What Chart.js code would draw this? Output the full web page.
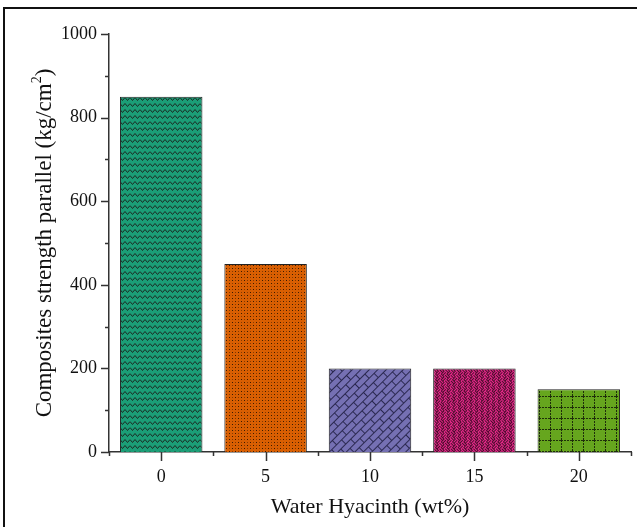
<!DOCTYPE html>
<html>
<head>
<meta charset="utf-8">
<script src="https://cdn.jsdelivr.net/npm/chart.js@4.4.1/dist/chart.umd.min.js"></script>
<style>
  html, body { margin: 0; padding: 0; background: #fff; }
  #wrap { width: 637px; height: 527px; position: relative; }
</style>
</head>
<body>
<div id="wrap"><canvas id="c" width="637" height="527"></canvas></div>
<script>
// Water hyacinth content (wt%) and composite strength parallel to grain
const categories = ['0', '5', '10', '15', '20'];
const strength = [850, 450, 200, 200, 150];
const yTicks = [0, 200, 400, 600, 800, 1000];
const yMinorTicks = [100, 300, 500, 700, 900];

const fillColors = ['#1b9e77', '#d95f02', '#7570b3', '#e7298a', '#66a61e'];
const SERIF = '"Liberation Serif", "Times New Roman", serif';

function tile(w, h, bg, draw) {
  const c = document.createElement('canvas');
  c.width = w; c.height = h;
  const g = c.getContext('2d');
  g.fillStyle = bg; g.fillRect(0, 0, w, h);
  draw(g, w, h);
  return c;
}

function makePatterns(ctx) {
  // zigzag rows
  const zig = tile(10, 6, fillColors[0], (g) => {
    g.strokeStyle = '#1c2b24'; g.lineWidth = 1;
    g.beginPath();
    g.moveTo(0, 1.5); g.lineTo(2.5, 4.5); g.lineTo(5, 1.5); g.lineTo(7.5, 4.5); g.lineTo(10, 1.5);
    g.stroke();
  });
  // staggered dots
  const dots = tile(6, 6, fillColors[1], (g) => {
    g.fillStyle = '#3a1a00';
    g.fillRect(1, 1, 1, 1);
    g.fillRect(4, 4, 1, 1);
    g.fillStyle = '#8a3a00';
    g.fillRect(4, 1, 1, 1);
    g.fillRect(1, 4, 1, 1);
  });
  // running bricks, later rotated 45 degrees
  const brick = tile(14, 12, fillColors[2], (g) => {
    g.strokeStyle = '#2a2850'; g.lineWidth = 1;
    g.beginPath();
    g.moveTo(0, 0.5); g.lineTo(14, 0.5);
    g.moveTo(0, 6.5); g.lineTo(14, 6.5);
    g.moveTo(0.5, 0); g.lineTo(0.5, 6);
    g.moveTo(7.5, 6); g.lineTo(7.5, 12);
    g.stroke();
  });
  // basket weave, later rotated 45 degrees
  const weave = tile(8, 8, fillColors[3], (g) => {
    g.strokeStyle = '#4a0c2c'; g.lineWidth = 1;
    g.beginPath();
    g.moveTo(0, 0.5); g.lineTo(4, 0.5);
    g.moveTo(0, 2.5); g.lineTo(4, 2.5);
    g.moveTo(4.5, 0); g.lineTo(4.5, 4);
    g.moveTo(6.5, 0); g.lineTo(6.5, 4);
    g.moveTo(4, 4.5); g.lineTo(8, 4.5);
    g.moveTo(4, 6.5); g.lineTo(8, 6.5);
    g.moveTo(0.5, 4); g.lineTo(0.5, 8);
    g.moveTo(2.5, 4); g.lineTo(2.5, 8);
    g.stroke();
  });
  // dashed grid
  const grid = tile(11, 11, fillColors[4], (g) => {
    g.fillStyle = '#1e2e0a';
    for (let i = 0; i < 11; i += 3) { g.fillRect(i, 0, 2, 1); g.fillRect(0, i, 1, 2); }
  });

  const pats = [zig, dots, brick, weave, grid].map(t => ctx.createPattern(t, 'repeat'));
  pats[2].setTransform(new DOMMatrix().rotate(-45));
  pats[3].setTransform(new DOMMatrix().rotate(45));
  return pats;
}

const canvas = document.getElementById('c');
const ctx = canvas.getContext('2d');
const patterns = makePatterns(ctx);

// white page, top/left frame, custom tick marks and axis titles
const decor = {
  id: 'decor',
  beforeDraw(chart) {
    const g = chart.ctx;
    g.save();
    g.fillStyle = '#fff';
    g.fillRect(0, 0, chart.width, chart.height);
    g.fillStyle = '#111';
    g.fillRect(3, 7, chart.width - 3, 2);
    g.fillRect(3, 7, 2, chart.height - 7);
    g.restore();
  },
  afterDraw(chart) {
    const g = chart.ctx;
    const x = chart.scales.x, y = chart.scales.y;
    const area = chart.chartArea;
    g.save();
    g.strokeStyle = '#333';
    g.lineWidth = 1.5;
    g.beginPath();
    yTicks.forEach(v => { const p = Math.round(y.getPixelForValue(v)) + 0.5; g.moveTo(area.left, p); g.lineTo(area.left - 8, p); });
    yMinorTicks.forEach(v => { const p = Math.round(y.getPixelForValue(v)) + 0.5; g.moveTo(area.left, p); g.lineTo(area.left - 4, p); });
    categories.forEach((c, i) => { const p = Math.round(x.getPixelForValue(i)) + 0.5; g.moveTo(p, area.bottom); g.lineTo(p, area.bottom + 9); });
    for (let i = 0; i <= categories.length; i++) {
      const p = Math.round(x.getPixelForValue(i - 0.5)) + 0.5;
      g.moveTo(p, area.bottom); g.lineTo(p, area.bottom + 4);
    }
    g.stroke();

    g.fillStyle = '#111';
    g.textBaseline = 'middle';
    g.textAlign = 'center';
    g.font = '22px ' + SERIF;
    g.fillText('Water Hyacinth (wt%)', (area.left + area.right) / 2, 507);

    // vertical title with a raised superscript
    const main = 'Composites strength parallel (kg/cm';
    const sup = '2', tail = ')';
    g.translate(45, (area.top + area.bottom) / 2);
    g.rotate(-Math.PI / 2);
    g.textAlign = 'left';
    g.font = '23px ' + SERIF;
    const wMain = g.measureText(main).width, wTail = g.measureText(tail).width;
    g.font = '14px ' + SERIF;
    const wSup = g.measureText(sup).width;
    let cx = -(wMain + wSup + wTail) / 2;
    g.font = '23px ' + SERIF;
    g.fillText(main, cx, 0); cx += wMain;
    g.font = '14px ' + SERIF;
    g.fillText(sup, cx, -8); cx += wSup;
    g.font = '23px ' + SERIF;
    g.fillText(tail, cx, 0);
    g.restore();
  }
};

new Chart(canvas, {
  type: 'bar',
  data: {
    labels: categories,
    datasets: [{
      data: strength,
      backgroundColor: patterns,
      borderColor: '#222',
      borderWidth: 1,
      barPercentage: 0.79,
      categoryPercentage: 1.0
    }]
  },
  options: {
    responsive: false,
    animation: false,
    devicePixelRatio: 1,
    layout: { padding: { left: 0, top: 34, right: 6, bottom: 0 } },
    plugins: { legend: { display: false }, tooltip: { enabled: false } },
    scales: {
      x: {
        grid: { display: false },
        border: { display: true, color: '#333', width: 1.5 },
        ticks: { color: '#111', font: { family: SERIF, size: 18 }, padding: 6 },
        afterFit(s) { s.height = 75; }
      },
      y: {
        min: 0, max: 1000,
        grid: { display: false },
        border: { display: true, color: '#333', width: 1.5 },
        afterBuildTicks(s) { s.ticks = yTicks.map(v => ({ value: v })); },
        ticks: { color: '#111', font: { family: SERIF, size: 18 }, padding: 4, callback: v => String(v) },
        afterFit(s) { s.width = 109; }
      }
    }
  },
  plugins: [decor]
});
</script>
</body>
</html>
